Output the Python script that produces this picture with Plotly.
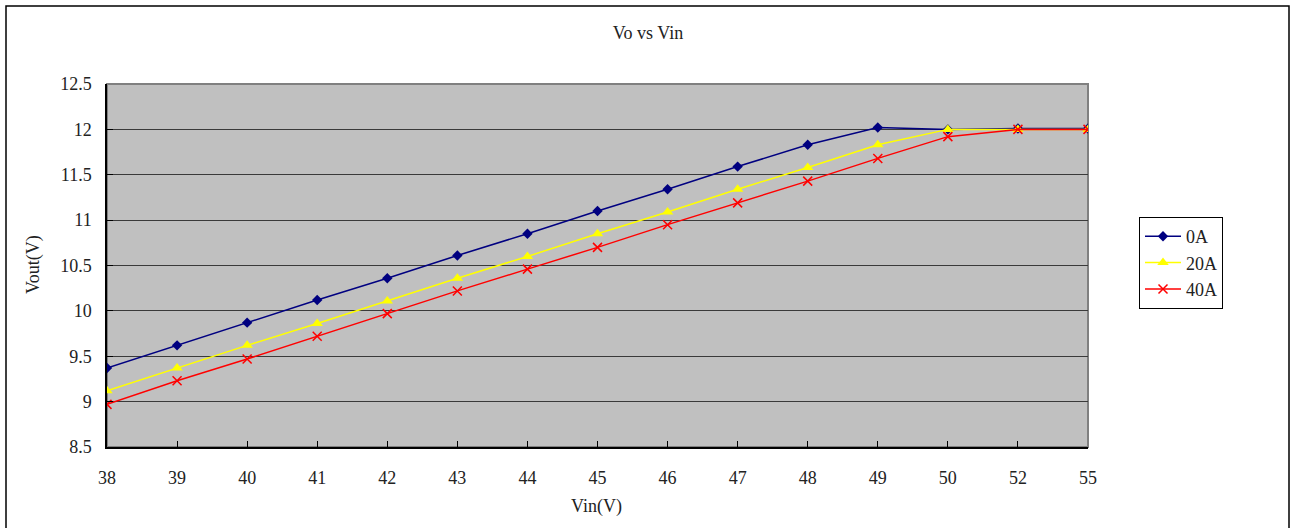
import plotly.graph_objects as go

# Input voltage settings (categorical axis, evenly spaced)
vin = ["38", "39", "40", "41", "42", "43", "44", "45", "46", "47", "48", "49", "50", "52", "55"]

# Output voltage for each load current
vout_0a = [9.37, 9.62, 9.87, 10.12, 10.36, 10.61, 10.85, 11.10, 11.34, 11.59, 11.83, 12.02, 12.00, 12.01, 12.01]
vout_20a = [9.12, 9.37, 9.62, 9.86, 10.11, 10.36, 10.60, 10.85, 11.09, 11.34, 11.58, 11.83, 12.00, 12.00, 12.00]
vout_40a = [8.97, 9.23, 9.47, 9.72, 9.97, 10.22, 10.46, 10.70, 10.95, 11.19, 11.43, 11.68, 11.92, 12.00, 12.00]

FONT = "Liberation Serif"
FS = 18
TXT = "#222222"

# plot area in pixels: x 107..1088, y 84..447
L, R, T, B = 107, 1088, 84, 447
W, H = 1291, 528
PW, PH = R - L, B - T


def px(x):
    return (x - L) / PW


def py(y):
    return (B - y) / PH


fig = go.Figure()

fig.add_trace(go.Scatter(
    x=vin, y=vout_0a, name="0A", mode="lines+markers",
    line=dict(color="#000080", width=1.5),
    marker=dict(symbol="diamond", size=8, color="#000080"),
))
fig.add_trace(go.Scatter(
    x=vin, y=vout_20a, name="20A", mode="lines+markers",
    line=dict(color="#FFFF00", width=1.5),
    marker=dict(symbol="triangle-up", size=10, color="#FFFF00"),
))
fig.add_trace(go.Scatter(
    x=vin, y=vout_40a, name="40A", mode="lines+markers",
    line=dict(color="#FF0000", width=1.5),
    marker=dict(symbol="x-thin", size=9, color="#FF0000",
                line=dict(color="#FF0000", width=1.5)),
))

fig.update_layout(
    width=W, height=H,
    margin=dict(l=L, r=W - R, t=T, b=H - B),
    paper_bgcolor="white",
    plot_bgcolor="#C0C0C0",
    font=dict(family=FONT, size=FS, color=TXT),
    title=dict(text="Vo vs Vin", x=648 / W, xanchor="center",
               y=1 - 33 / H, yanchor="middle",
               font=dict(family=FONT, size=FS, color=TXT)),
    showlegend=True,
    legend=dict(
        x=px(1139), xanchor="left",
        y=py(217), yanchor="top",
        bgcolor="white", bordercolor="black", borderwidth=1,
        font=dict(family=FONT, size=FS, color=TXT),
        itemwidth=36, tracegroupgap=0,
    ),
    xaxis=dict(
        type="category",
        range=[0, len(vin) - 1],
        showgrid=False,
        showline=True, linecolor="black", linewidth=1.5,
        ticks="inside", ticklen=6, tickcolor="black",
        ticklabelstandoff=14,
        tickfont=dict(family=FONT, size=FS, color=TXT),
        zeroline=False,
    ),
    yaxis=dict(
        range=[8.5, 12.5],
        dtick=0.5, tick0=8.5,
        showgrid=True, gridcolor="#3a3a3a", gridwidth=1,
        showline=True, linecolor="black", linewidth=1.5,
        ticks="inside", ticklen=6, tickcolor="black",
        ticklabelstandoff=10,
        tickfont=dict(family=FONT, size=FS, color=TXT),
        zeroline=False,
    ),
    annotations=[
        dict(text="Vin(V)", xref="paper", yref="paper", x=px(596), y=py(506),
             xanchor="center", yanchor="middle", showarrow=False,
             font=dict(family=FONT, size=FS, color=TXT)),
        dict(text="Vout(V)", xref="paper", yref="paper", x=px(33), y=py(265),
             xanchor="center", yanchor="middle", showarrow=False, textangle=-90,
             font=dict(family=FONT, size=FS, color=TXT)),
    ],
    shapes=[
        # gray frame around the plotting area (top and right edges)
        dict(type="rect", xref="paper", yref="paper", x0=0, x1=1, y0=0, y1=1,
             line=dict(color="#808080", width=2), layer="below"),
        # outer chart border
        dict(type="rect", xref="paper", yref="paper",
             x0=px(6), x1=px(1289), y0=py(540), y1=py(6),
             line=dict(color="black", width=1.5)),
    ],
)

fig.write_html("out.html")
